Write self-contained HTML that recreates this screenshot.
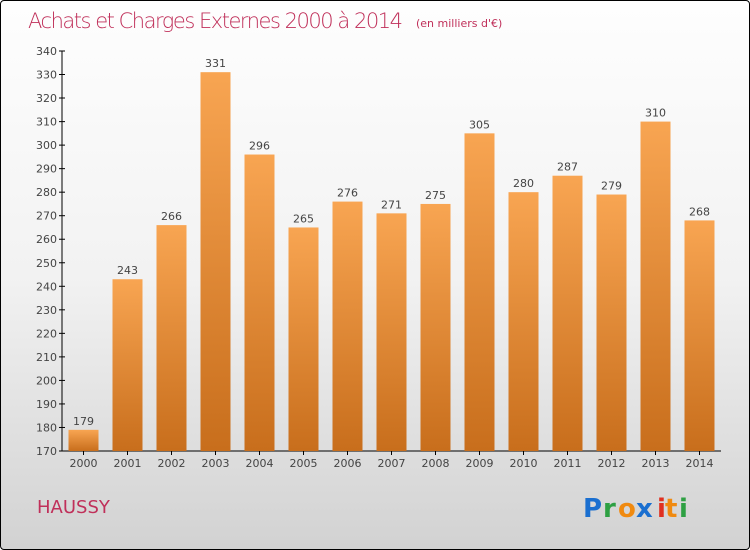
<!DOCTYPE html>
<html><head><meta charset="utf-8"><style>
body{margin:0;}
#wrap{position:relative;width:748px;height:548px;border:1px solid #000;border-radius:4px;background:linear-gradient(#fefefe,#f2f2f2 50%,#d2d2d2);font-family:"DejaVu Sans","Liberation Sans",sans-serif;overflow:hidden}
</style></head><body>
<div id="wrap">
<svg width="748" height="548" id="svg">
<defs><linearGradient id="bg" x1="0" y1="0" x2="0" y2="1"><stop offset="0" stop-color="#f8a552"/><stop offset="1" stop-color="#c86e1c"/></linearGradient></defs>
<text x="27" y="27" font-size="21" fill="#c0305a" font-family="DejaVu Sans" font-weight="200" textLength="375">Achats et Charges Externes 2000 à 2014</text>
<text x="415" y="26" font-size="11" fill="#c0305a">(en milliers d'€)</text>
<text x="36" y="512" font-size="18" fill="#c0305a">HAUSSY</text>
<g font-size="26" font-family="DejaVu Sans" font-weight="bold">
<text x="582" y="516" fill="#1a6fd0">P</text><text x="602" y="516" fill="#2ea043">r</text><text x="617" y="516" fill="#f08a10">o</text><text x="635" y="516" fill="#1a6fd0">x</text><text x="656" y="516" fill="#e03020">i</text><text x="664" y="516" fill="#f08a10">t</text><text x="678" y="516" fill="#2ea043">i</text>
</g>
<g id="axes"></g><g id="bars"></g>
</svg></div>
<script>
const years=["2000","2001","2002","2003","2004","2005","2006","2007","2008","2009","2010","2011","2012","2013","2014"];
const values=[179,243,266,331,296,265,276,271,275,305,280,287,279,310,268];
const yTicks=[170,180,190,200,210,220,230,240,250,260,270,280,290,300,310,320,330,340];
const NS="http://www.w3.org/2000/svg";
const yMin=170,yMax=340,yTop=50,yBot=450;
function y(v){return yBot-(v-yMin)/(yMax-yMin)*(yBot-yTop);}
function x(i){return 82.5+i*44;}
function mk(t,a,p){const e=document.createElementNS(NS,t);for(const k in a)e.setAttribute(k,a[k]);p.appendChild(e);return e;}
const ax=document.getElementById('axes'),bs=document.getElementById('bars');
let l=mk('line',{x1:61,y1:yTop,x2:61,y2:yBot,stroke:'#000'},ax);


l=mk('line',{x1:61,y1:yBot,x2:720,y2:yBot,stroke:'#000'},ax);


yTicks.forEach(v=>{mk('line',{x1:58,x2:64,y1:y(v),y2:y(v),stroke:'#000'},ax);
const t=mk('text',{x:56,y:y(v)+4,'font-size':11,'text-anchor':'end',fill:'#444'},ax);t.textContent=v;

});
years.forEach((yr,i)=>{
const r=mk('rect',{x:x(i)-15,y:y(values[i]),width:30,height:yBot-y(values[i]),fill:'url(#bg)'},bs);


const t=mk('text',{x:x(i),y:y(values[i])-5,'font-size':11,'text-anchor':'middle',fill:'#444'},bs);t.textContent=values[i];


const tx=mk('text',{x:x(i),y:466,'font-size':11,'text-anchor':'middle',fill:'#444'},ax);tx.textContent=yr;


mk('line',{x1:x(i),x2:x(i),y1:yBot,y2:yBot+4,stroke:'#000'},ax);
});
</script>
</body></html>
